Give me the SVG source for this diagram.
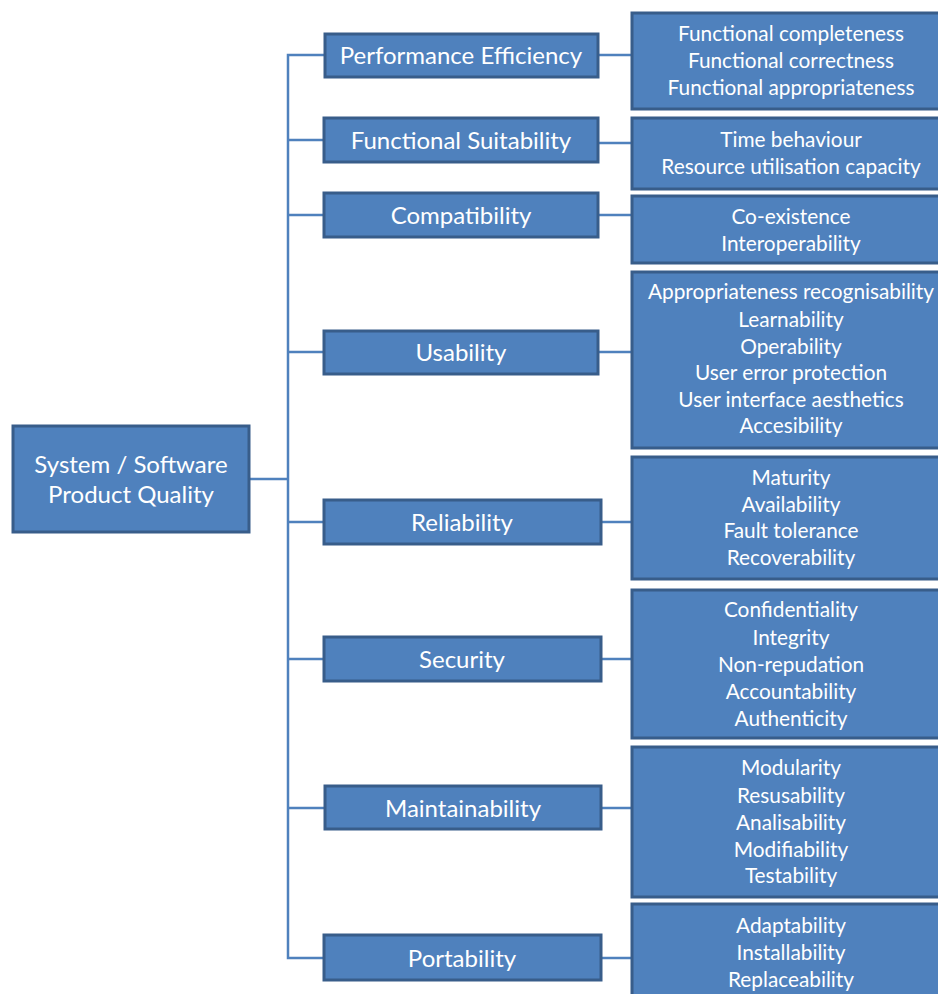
<svg xmlns="http://www.w3.org/2000/svg" width="938" height="994" viewBox="0 0 938 994">
  <style>
    .box { fill: #4F81BD; stroke: #385D8A; stroke-width: 3; }
    .lbl { font-family: Lato, "Liberation Sans", sans-serif; fill: #FFFFFF; text-anchor: middle; }
    .l1 { font-size: 24px; }
    .l2 { font-size: 24px; }
    .l3 { font-size: 20.8px; }
    .wire { fill: none; stroke: #4F81BD; stroke-width: 2.5; }
  </style>
  <rect width="938" height="994" fill="#FFFFFF"/>

  <!-- connectors -->
  <g id="connectors">
    <path class="wire" d="M249 479 H288"/>
    <path class="wire" d="M325 55 H288 V958 H324"/>
    <path class="wire" d="M288 140 H324"/>
    <path class="wire" d="M288 215 H324"/>
    <path class="wire" d="M288 352 H324"/>
    <path class="wire" d="M288 522 H324"/>
    <path class="wire" d="M288 659 H324"/>
    <path class="wire" d="M288 808 H325"/>
    <path class="wire" d="M598 55 H632"/>
    <path class="wire" d="M598 143 H632"/>
    <path class="wire" d="M598 215 H632"/>
    <path class="wire" d="M598 352 H632"/>
    <path class="wire" d="M601 522 H632"/>
    <path class="wire" d="M601 659 H632"/>
    <path class="wire" d="M601 808 H632"/>
    <path class="wire" d="M601 958 H632"/>
  </g>

  <!-- root -->
  <g id="root">
    <rect class="box" x="13" y="426" width="236" height="106"/>
    <text class="lbl l1" x="131" y="473">System / Software</text>
    <text class="lbl l1" x="131" y="503">Product Quality</text>
  </g>

  <!-- characteristics -->
  <g id="performance">
    <rect class="box" x="325" y="34" width="273" height="43"/>
    <text class="lbl l2" x="461" y="64">Performance Efficiency</text>
  </g>
  <g id="functional">
    <rect class="box" x="324" y="118" width="274" height="44"/>
    <text class="lbl l2" x="461" y="149">Functional Suitability</text>
  </g>
  <g id="compatibility">
    <rect class="box" x="324" y="193" width="274" height="44"/>
    <text class="lbl l2" x="461" y="224">Compatibility</text>
  </g>
  <g id="usability">
    <rect class="box" x="324" y="331" width="274" height="43"/>
    <text class="lbl l2" x="461" y="361">Usability</text>
  </g>
  <g id="reliability">
    <rect class="box" x="324" y="500" width="277" height="44"/>
    <text class="lbl l2" x="462" y="531">Reliability</text>
  </g>
  <g id="security">
    <rect class="box" x="324" y="637" width="277" height="44"/>
    <text class="lbl l2" x="462" y="668">Security</text>
  </g>
  <g id="maintainability">
    <rect class="box" x="325" y="786" width="276" height="43"/>
    <text class="lbl l2" x="463" y="817">Maintainability</text>
  </g>
  <g id="portability">
    <rect class="box" x="324" y="935" width="277" height="45"/>
    <text class="lbl l2" x="462" y="967">Portability</text>
  </g>

  <!-- sub-characteristics -->
  <g id="performance-sub">
    <rect class="box" x="632" y="13" width="318" height="96"/>
    <text class="lbl l3" x="791" y="41">Functional completeness</text>
    <text class="lbl l3" x="791" y="68">Functional correctness</text>
    <text class="lbl l3" x="791" y="95">Functional appropriateness</text>
  </g>
  <g id="functional-sub">
    <rect class="box" x="632" y="118" width="318" height="71"/>
    <text class="lbl l3" x="791" y="147">Time behaviour</text>
    <text class="lbl l3" x="791" y="174">Resource utilisation capacity</text>
  </g>
  <g id="compatibility-sub">
    <rect class="box" x="632" y="196" width="318" height="67"/>
    <text class="lbl l3" x="791" y="224">Co-existence</text>
    <text class="lbl l3" x="791" y="251">Interoperability</text>
  </g>
  <g id="usability-sub">
    <rect class="box" x="632" y="272" width="318" height="176"/>
    <text class="lbl l3" x="791" y="299">Appropriateness recognisability</text>
    <text class="lbl l3" x="791" y="327">Learnability</text>
    <text class="lbl l3" x="791" y="354">Operability</text>
    <text class="lbl l3" x="791" y="380">User error protection</text>
    <text class="lbl l3" x="791" y="407">User interface aesthetics</text>
    <text class="lbl l3" x="791" y="433">Accesibility</text>
  </g>
  <g id="reliability-sub">
    <rect class="box" x="632" y="457" width="318" height="122"/>
    <text class="lbl l3" x="791" y="485">Maturity</text>
    <text class="lbl l3" x="791" y="512">Availability</text>
    <text class="lbl l3" x="791" y="538">Fault tolerance</text>
    <text class="lbl l3" x="791" y="565">Recoverability</text>
  </g>
  <g id="security-sub">
    <rect class="box" x="632" y="590" width="318" height="148"/>
    <text class="lbl l3" x="791" y="617">Confidentiality</text>
    <text class="lbl l3" x="791" y="645">Integrity</text>
    <text class="lbl l3" x="791" y="672">Non-repudation</text>
    <text class="lbl l3" x="791" y="699">Accountability</text>
    <text class="lbl l3" x="791" y="726">Authenticity</text>
  </g>
  <g id="maintainability-sub">
    <rect class="box" x="632" y="747" width="318" height="150"/>
    <text class="lbl l3" x="791" y="775">Modularity</text>
    <text class="lbl l3" x="791" y="803">Resusability</text>
    <text class="lbl l3" x="791" y="830">Analisability</text>
    <text class="lbl l3" x="791" y="857">Modifiability</text>
    <text class="lbl l3" x="791" y="883">Testability</text>
  </g>
  <g id="portability-sub">
    <rect class="box" x="632" y="904" width="318" height="100"/>
    <text class="lbl l3" x="791" y="933">Adaptability</text>
    <text class="lbl l3" x="791" y="960">Installability</text>
    <text class="lbl l3" x="791" y="987">Replaceability</text>
  </g>
</svg>
